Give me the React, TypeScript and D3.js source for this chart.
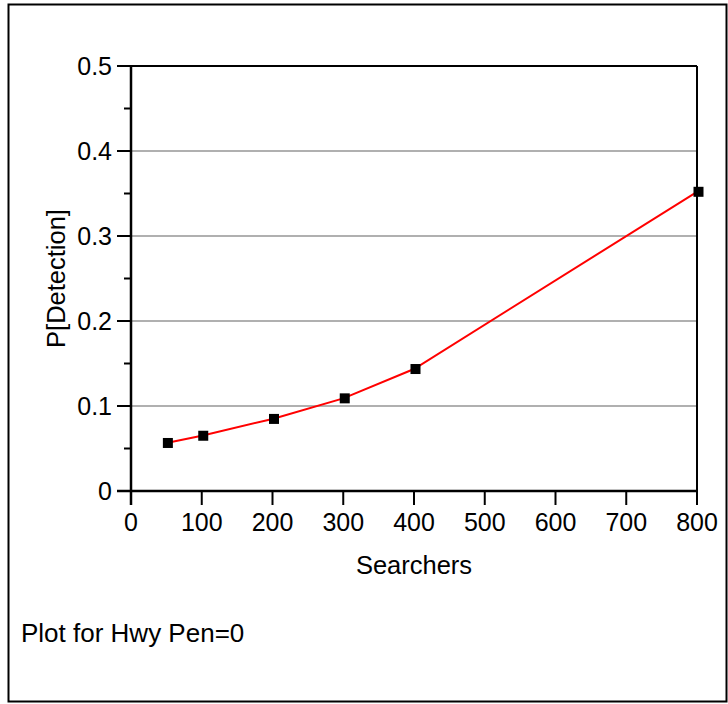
import React from "react";
import * as d3 from "d3";

const searchers = [50, 100, 200, 300, 400, 800];
const pDetection = [0.0565, 0.065, 0.0848, 0.109, 0.1435, 0.352];
const xTicks = [0, 100, 200, 300, 400, 500, 600, 700, 800];
const yTicks = [0, 0.1, 0.2, 0.3, 0.4, 0.5];
const yMinorTicks = [0.05, 0.15, 0.25, 0.35, 0.45];
const gridTicks = [0.1, 0.2, 0.3, 0.4];
const xLabel = "Searchers";
const yLabel = "P[Detection]";
const caption = "Plot for Hwy Pen=0";

export default function App() {
  const W = 728, H = 704;
  const left = 131, right = 697, top = 66, bottom = 491;
  const x = d3.scaleLinear().domain([0, 800]).range([left, right]);
  const y = d3.scaleLinear().domain([0, 0.5]).range([bottom, top]);
  const data = searchers.map((s, i) => ({ s, p: pDetection[i] }));
  const line = d3.line<{ s: number; p: number }>().x(d => x(d.s)).y(d => y(d.p));
  const font = "Liberation Sans, Arial, Helvetica, sans-serif";
  const fs = 25;
  const fsL = 25.5;
  return (
    <svg width={W} height={H} style={{ position: "absolute", left: 0, top: 0, background: "#fff" }} fontFamily={font}>
      <rect x={8.5} y={4.5} width={718} height={697} fill="#fff" stroke="#000" strokeWidth={2} />
      {gridTicks.map(t => (
        <line key={"g" + t} x1={left} x2={right} y1={y(t)} y2={y(t)} stroke="#b0b0b0" strokeWidth={2} />
      ))}
      <line x1={left} x2={right} y1={top} y2={top} stroke="#000" strokeWidth={2} />
      <line x1={right} x2={right} y1={top} y2={bottom} stroke="#000" strokeWidth={2} />
      <line x1={left} x2={left} y1={top} y2={bottom + 14} stroke="#000" strokeWidth={2.5} />
      <line x1={left - 14} x2={right} y1={bottom} y2={bottom} stroke="#000" strokeWidth={2.5} />
      {yTicks.map(t => (
        <g key={"y" + t}>
          <line x1={left - 14} x2={left} y1={y(t)} y2={y(t)} stroke="#000" strokeWidth={2} />
          <text x={left - 19} y={y(t)} textAnchor="end" dominantBaseline="central" fontSize={fs} fill="#000">
            {t === 0 ? "0" : d3.format(".1f")(t)}
          </text>
        </g>
      ))}
      {yMinorTicks.map(t => (
        <line key={"ym" + t} x1={left - 7} x2={left} y1={y(t)} y2={y(t)} stroke="#000" strokeWidth={2} />
      ))}
      {xTicks.map(t => (
        <g key={"x" + t}>
          <line x1={x(t)} x2={x(t)} y1={bottom} y2={bottom + 14} stroke="#000" strokeWidth={2} />
          <text x={x(t)} y={bottom + 31} textAnchor="middle" dominantBaseline="central" fontSize={fs} fill="#000">
            {t}
          </text>
        </g>
      ))}
      <path d={line(data) || ""} fill="none" stroke="#ff0000" strokeWidth={2} />
      {data.map((d, i) => (
        <rect key={"m" + i} x={x(d.s) - 5 + 1.5} y={y(d.p) - 5} width={10} height={10} fill="#000" />
      ))}
      <text x={(left + right) / 2} y={574} textAnchor="middle" fontSize={fsL} fill="#000">{xLabel}</text>
      <text transform={`translate(65, ${(top + bottom) / 2}) rotate(-90)`} textAnchor="middle" fontSize={fsL} fill="#000">{yLabel}</text>
      <text x={21} y={642} fontSize={26} fill="#000">{caption}</text>
    </svg>
  );
}
